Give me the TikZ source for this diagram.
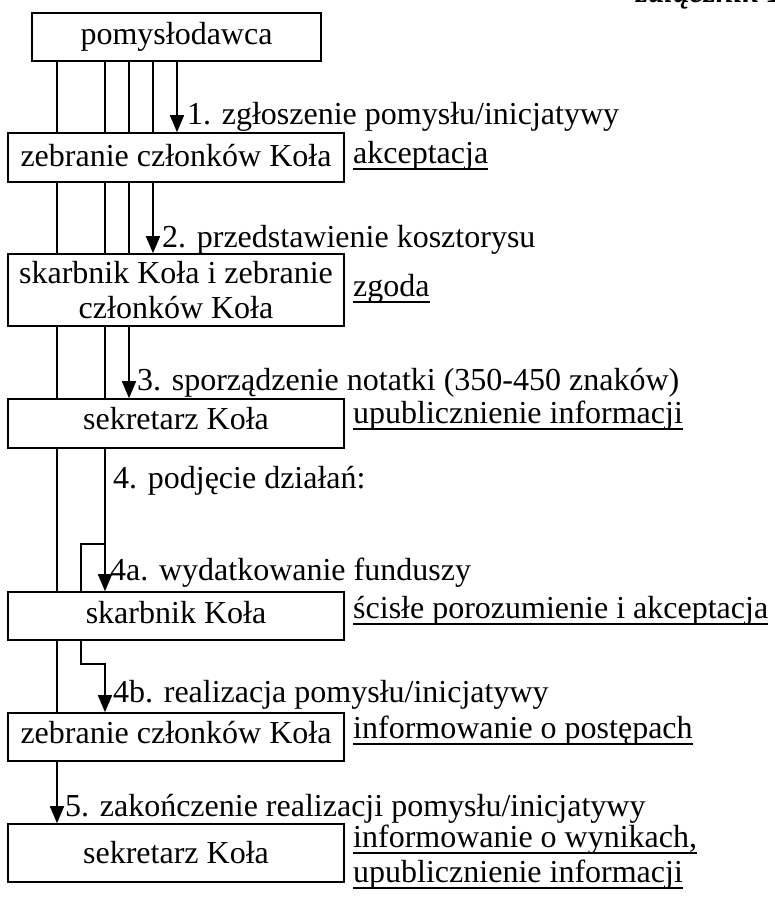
\documentclass[tikz,border=0pt]{standalone}
\usepackage{fontspec}
\setmainfont{Liberation Serif}
\usetikzlibrary{arrows.meta}
\newcommand\ulword[1]{\setbox0\hbox{#1}\rlap{\rule[-7pt]{\wd0}{1.8pt}}\box0}
\begin{document}
\begin{tikzpicture}[x=1pt,y=-1pt,
  box/.style={draw,line width=1.6pt,inner sep=0pt,minimum width=336pt},
  txt/.style={font=\fontsize{32}{35}\selectfont, inner sep=0pt},
  lbl/.style={txt,anchor=base west},
  ctr/.style={txt,anchor=base},
  conn/.style={line width=1.6pt},
  arr/.style={conn,-{Triangle[length=17pt,width=14pt]}}]
\useasboundingbox (0,0) rectangle (774,905);
\clip (0,0) rectangle (774,905);
% heading (cut off at the top)
\node[anchor=base west, inner sep=0pt, font=\fontsize{32}{35}\selectfont\bfseries\itshape] (hdr) at (636,2) {załącznik 1};
% columns and turn points
\coordinate (xA) at (57,0);
\coordinate (xB) at (81,0);
\coordinate (xC) at (105,0);
\coordinate (xD) at (129,0);
\coordinate (xE) at (153,0);
\coordinate (xF) at (177,0);
\coordinate (j1) at (0,544);
\coordinate (j2) at (0,664);
% boxes
\node[box, minimum width=289pt, minimum height=48pt] (b1) at (176.5,37) {};
\node[box, minimum height=49pt] (b2) at (176,157.5) {};
\node[box, minimum height=72pt] (b3) at (176,290) {};
\node[box, minimum height=49pt] (b4) at (176,423.5) {};
\node[box, minimum height=48pt] (b5) at (176,616) {};
\node[box, minimum height=48pt] (b6) at (176,737) {};
\node[box, minimum height=58pt] (b7) at (176,853) {};
% box texts
\node[ctr] (t1) at (176.5,44) {pomysłodawca};
\node[ctr] (t2) at (176,166) {zebranie członków Koła};
\node[ctr] (t3a) at (176,283) {skarbnik Koła i zebranie};
\node[ctr] (t3b) at (176,318) {członków Koła};
\node[ctr] (t4) at (176,429) {sekretarz Koła};
\node[ctr] (t5) at (176,623) {skarbnik Koła};
\node[ctr] (t6) at (176,743) {zebranie członków Koła};
\node[ctr] (t7) at (176,863) {sekretarz Koła};
% right-hand texts
\node[lbl] (r2) at (353,163) {\ulword{akceptacja}};
\node[lbl] (r3) at (353,296) {\ulword{zgoda}};
\node[lbl] (r4) at (353,423) {\ulword{upublicznienie informacji}};
\node[lbl] (r5) at (353,618) {\ulword{ścisłe porozumienie i akceptacja}};
\node[lbl] (r6) at (353,738) {\ulword{informowanie o postępach}};
\node[lbl] (r7a) at (353,847) {\ulword{informowanie o wynikach,}};
\node[lbl] (r7b) at (353,882) {\ulword{upublicznienie informacji}};
% step labels
\node[lbl] (l1) at (187,124) {1. zgłoszenie pomysłu/inicjatywy};
\node[lbl] (l2) at (162,247) {2. przedstawienie kosztorysu};
\node[lbl] (l3) at (137,390) {3. sporządzenie notatki (350-450 znaków)};
\node[lbl] (l4) at (113,488) {4. podjęcie działań:};
\node[lbl] (l4a) at (110,580) {4a. wydatkowanie funduszy};
\node[lbl] (l4b) at (113,702) {4b. realizacja pomysłu/inicjatywy};
\node[lbl] (l5) at (65,816) {5. zakończenie realizacji pomysłu/inicjatywy};
% connectors b1 -> b2
\draw[conn] (b1.south -| xA) -- (b2.north -| xA);
\draw[conn] (b1.south -| xC) -- (b2.north -| xC);
\draw[conn] (b1.south -| xD) -- (b2.north -| xD);
\draw[conn] (b1.south -| xE) -- (b2.north -| xE);
\draw[arr] (b1.south -| xF) -- (b2.north -| xF);
% b2 -> b3
\draw[conn] (b2.south -| xA) -- (b3.north -| xA);
\draw[conn] (b2.south -| xC) -- (b3.north -| xC);
\draw[conn] (b2.south -| xD) -- (b3.north -| xD);
\draw[arr] (b2.south -| xE) -- (b3.north -| xE);
% b3 -> b4
\draw[conn] (b3.south -| xA) -- (b4.north -| xA);
\draw[conn] (b3.south -| xC) -- (b4.north -| xC);
\draw[arr] (b3.south -| xD) -- (b4.north -| xD);
% b4 -> b5
\draw[conn] (b4.south -| xA) -- (b5.north -| xA);
\draw[arr] (b4.south -| xC) -- (b5.north -| xC);
\draw[conn] (xC |- j1) -| (b5.north -| xB);
% b5 -> b6
\draw[conn] (b5.south -| xA) -- (b6.north -| xA);
\draw[arr] (b5.south -| xB) -- (xB |- j2) -| (b6.north -| xC);
% b6 -> b7
\draw[arr] (b6.south -| xA) -- (b7.north -| xA);
\end{tikzpicture}
\end{document}
